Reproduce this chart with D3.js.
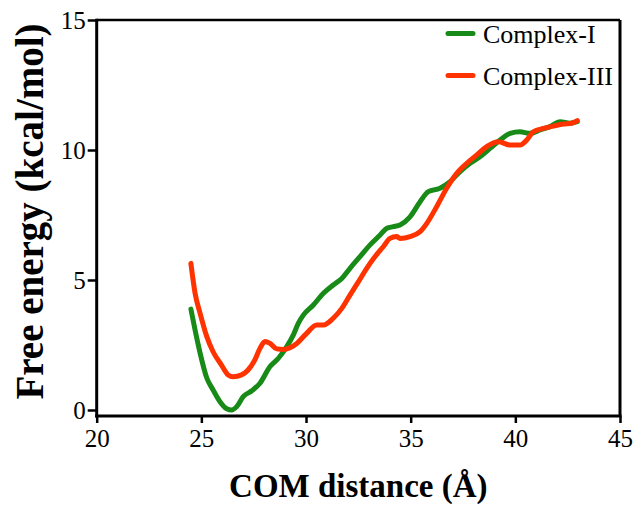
<!DOCTYPE html>
<html>
<head>
<meta charset="utf-8">
<script src="https://cdn.jsdelivr.net/npm/d3@7"></script>
<style>
html,body{margin:0;padding:0;background:#fff;}
svg{display:block;}
</style>
</head>
<body>
<svg id="chart" width="635" height="507"></svg>
<script>
const xTicks = [20, 25, 30, 35, 40, 45];
const yTicks = [0, 5, 10, 15];
const seriesNames = ["Complex-I", "Complex-III"];

const complex1X = [24.50,24.70,24.94,25.26,25.56,25.89,26.21,26.45,26.69,27.00,27.41,27.80,28.28,28.68,29.08,29.39,29.63,29.87,30.35,30.83,31.30,31.71,32.10,32.58,33.06,33.54,33.86,34.17,34.49,34.97,35.45,35.84,36.40,36.88,37.36,37.84,38.31,38.79,39.27,39.75,40.22,40.70,41.18,41.66,42.14,42.61,42.96];
const complex1Y = [3.88,3.08,2.19,1.23,0.77,0.32,0.05,0.00,0.13,0.51,0.74,1.03,1.67,1.99,2.44,2.88,3.33,3.65,4.04,4.49,4.81,5.06,5.45,5.90,6.35,6.73,6.99,7.05,7.12,7.43,8.01,8.40,8.53,8.78,9.17,9.49,9.74,10.06,10.38,10.64,10.70,10.64,10.77,10.90,11.09,11.03,11.09];

const complex3X = [24.50,24.70,24.94,25.26,25.56,25.96,26.28,26.52,26.92,27.23,27.55,27.80,28.04,28.28,28.60,28.92,29.24,29.56,30.03,30.51,30.83,31.30,31.71,32.10,32.50,32.90,33.30,33.69,34.01,34.33,34.49,34.97,35.45,35.77,36.24,36.72,37.20,37.68,38.16,38.63,39.19,39.75,40.22,40.54,40.86,41.34,41.82,42.29,42.69,42.96];
const complex3Y = [5.64,4.49,3.72,2.82,2.24,1.73,1.35,1.28,1.35,1.54,1.92,2.37,2.63,2.56,2.35,2.33,2.40,2.56,2.95,3.27,3.27,3.53,3.91,4.42,4.93,5.45,5.90,6.28,6.60,6.67,6.60,6.67,6.86,7.18,7.82,8.53,9.10,9.49,9.81,10.13,10.32,10.19,10.19,10.38,10.70,10.83,10.92,11.00,11.03,11.13];

const colors = ["#178a17", "#ff3300"];
const serif = "'Liberation Serif','Times New Roman',Times,serif";

const svg = d3.select("#chart");
const x = d3.scaleLinear().domain([20, 45]).range([96.7, 620]);
const y = d3.scaleLinear().domain([0, 15]).range([410, 20]);
const xAxisY = y(0) + 6;

// frame: top and right
svg.append("line").attr("x1", x(20)).attr("x2", x(45)).attr("y1", y(15)).attr("y2", y(15))
  .attr("stroke", "#000").attr("stroke-width", 2.5);
svg.append("line").attr("x1", x(45)).attr("x2", x(45)).attr("y1", y(15)).attr("y2", xAxisY)
  .attr("stroke", "#000").attr("stroke-width", 3);

// y axis
const yAxis = d3.axisLeft(y).tickValues(yTicks).tickSize(9).tickPadding(2).tickSizeOuter(0);
const gy = svg.append("g").attr("transform", `translate(${x(20)},0)`).call(yAxis);
gy.select(".domain").remove();
gy.selectAll(".tick line").attr("stroke", "#000").attr("stroke-width", 2.5);
gy.selectAll(".tick text").attr("font-family", serif).attr("font-size", 25).attr("fill", "#000");
svg.append("line").attr("x1", x(20)).attr("x2", x(20)).attr("y1", y(15) - 1.25).attr("y2", xAxisY + 1.5)
  .attr("stroke", "#000").attr("stroke-width", 3);

// x axis
const xAxis = d3.axisBottom(x).tickValues(xTicks).tickSize(7).tickPadding(6).tickSizeOuter(0);
const gx = svg.append("g").attr("transform", `translate(0,${xAxisY})`).call(xAxis);
gx.select(".domain").remove();
gx.selectAll(".tick line").attr("stroke", "#000").attr("stroke-width", 2.5);
gx.selectAll(".tick text").attr("font-family", serif).attr("font-size", 25).attr("fill", "#000");
svg.append("line").attr("x1", x(20) - 1.5).attr("x2", x(45) + 1.5).attr("y1", xAxisY).attr("y2", xAxisY)
  .attr("stroke", "#000").attr("stroke-width", 3);

// lines
const line = d3.line().x(d => x(d[0])).y(d => y(d[1])).curve(d3.curveMonotoneX);
const data = [
  d3.zip(complex1X, complex1Y),
  d3.zip(complex3X, complex3Y)
];
data.forEach((d, i) => {
  svg.append("path").datum(d).attr("d", line)
    .attr("fill", "none").attr("stroke", colors[i]).attr("stroke-width", 5)
    .attr("stroke-linejoin", "round").attr("stroke-linecap", "round");
});

// legend
seriesNames.forEach((name, i) => {
  const ly = 33.5 + i * 42;
  svg.append("line").attr("x1", 448).attr("x2", 473).attr("y1", ly).attr("y2", ly)
    .attr("stroke", colors[i]).attr("stroke-width", 5).attr("stroke-linecap", "round");
  svg.append("text").attr("x", 483).attr("y", ly + 9.5)
    .attr("font-family", serif).attr("font-size", 26).attr("fill", "#000").text(name);
});

// axis titles
svg.append("text").attr("x", (x(20) + x(45)) / 2 + 0).attr("y", 497)
  .attr("text-anchor", "middle").attr("font-family", serif).attr("font-weight", "bold")
  .attr("font-size", 33).attr("fill", "#000").text("COM distance (Å)");
svg.append("text").attr("transform", `translate(43,211.5) rotate(-90)`)
  .attr("text-anchor", "middle").attr("font-family", serif).attr("font-weight", "bold")
  .attr("font-size", 39).attr("fill", "#000").text("Free energy (kcal/mol)");
</script>
</body>
</html>
